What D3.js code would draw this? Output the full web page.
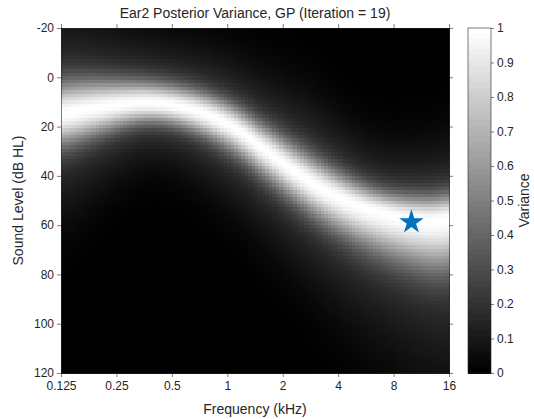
<!DOCTYPE html>
<html>
<head>
<meta charset="utf-8">
<script src="https://cdn.jsdelivr.net/npm/d3@7"></script>
<style>
    body { margin: 0; background: #fff; }
    text { font-family: "Liberation Sans", Arial, sans-serif; fill: #262626; }
</style>
</head>
<body>
<div id="heatmap"></div>
<script>
// Chart size, matches the 534x419 window
const WIDTH = 534, HEIGHT = 419;
const plot = {left: 61, top: 28, right: 449, bottom: 373};
const cbar = {left: 468, right: 491};

// Tick labels
const freqTicks = [0.125, 0.25, 0.5, 1, 2, 4, 8, 16];
const levelTicks = [-20, 0, 20, 40, 60, 80, 100, 120];
const varTicks = [0, 0.1, 0.2, 0.3, 0.4, 0.5, 0.6, 0.7, 0.8, 0.9, 1];

// Ridge of maximum variance (kHz -> dB HL)
const ridgeFreq  = [0.125, 0.218, 0.379, 0.628, 1.035, 1.57, 2.40, 3.63, 5.47, 8.34, 12.6, 16];
const ridgeLevel = [15, 12, 10.5, 13, 19.5, 29, 39, 47, 52.7, 56.5, 58.2, 57.5];

// Half-width (dB, value = 0.5) of the bright band, above and below the ridge
const widthFreq  = [0.125, 0.139, 0.38, 1.04, 2.75, 6.6, 14.3, 16];
const widthAbove = [10, 10, 6.8, 7, 8.5, 7, 8, 8];
const widthBelow = [10, 10, 6.2, 8, 10, 13, 16, 16];

// Next sample location (star)
const starFreq = 10.0, starLevel = 58.8;

// Grid resolution of the posterior (1/16 octave by 1.4 dB)
const NX = 112, NY = 100;

let svg = d3.select("#heatmap")
    .append("svg")
    .attr("width", WIDTH)
    .attr("height", HEIGHT);

let x = d3.scaleLog().base(2)
    .domain([0.125, 16])
    .range([plot.left, plot.right]);
let y = d3.scaleLinear()
    .domain([-20, 120])
    .range([plot.top, plot.bottom]);
let yc = d3.scaleLinear()
    .domain([0, 1])
    .range([plot.bottom, plot.top]);

/**
 * Cubic Hermite interpolation over log2 frequency
 */
function hermite(xs, ys, f) {
    let lx = xs.map(v => Math.log2(v));
    let t = Math.log2(f);
    let n = lx.length;
    let i = 0;
    while (i < n - 2 && t > lx[i + 1]) i++;
    let slope = function(k) {
        let a = Math.max(0, k - 1), b = Math.min(n - 1, k + 1);
        return (ys[b] - ys[a]) / (lx[b] - lx[a]);
    };
    let h = lx[i + 1] - lx[i];
    let s = (t - lx[i]) / h;
    let h00 = 2 * s * s * s - 3 * s * s + 1, h10 = s * s * s - 2 * s * s + s;
    let h01 = -2 * s * s * s + 3 * s * s, h11 = s * s * s - s * s;
    return h00 * ys[i] + h10 * h * slope(i) + h01 * ys[i + 1] + h11 * h * slope(i + 1);
}

/**
 * Variance at a frequency / level pair from the read-off band shape
 */
function variance(f, level) {
    let d = level - hermite(ridgeFreq, ridgeLevel, f);
    let hw = d < 0 ? hermite(widthFreq, widthAbove, f) : hermite(widthFreq, widthBelow, f);
    let s = hw / 1.1774;
    let v = 0.75 * Math.exp(-d * d / (2 * s * s)) + 0.25 * Math.exp(-d * d / (2 * 7.8 * s * s));
    return Math.max(0, Math.min(1, v));
}

// Build cells
let cells = [];
let lo = Math.log2(0.125), hi = Math.log2(16);
for (let i = 0; i < NX; i++) {
    let f0 = Math.pow(2, lo + (hi - lo) * i / NX);
    let f1 = Math.pow(2, lo + (hi - lo) * (i + 1) / NX);
    let fc = Math.sqrt(f0 * f1);
    for (let j = 0; j < NY; j++) {
        let l0 = -20 + 140 * j / NY, l1 = -20 + 140 * (j + 1) / NY;
        cells.push({f0: f0, f1: f1, l0: l0, l1: l1, v: variance(fc, (l0 + l1) / 2)});
    }
}

let gray = v => d3.rgb(v * 255, v * 255, v * 255);

svg.append("g")
    .selectAll("rect")
    .data(cells)
    .enter()
    .append("rect")
    .attr("x", d => x(d.f0))
    .attr("y", d => y(d.l0))
    .attr("width", d => x(d.f1) - x(d.f0) + 0.5)
    .attr("height", d => y(d.l1) - y(d.l0) + 0.5)
    .attr("fill", d => gray(d.v))
    .attr("shape-rendering", "crispEdges");

// Axes with outward ticks on all four sides
let tickFmt = d => String(d);
svg.append("g")
    .attr("transform", `translate(0, ${plot.bottom})`)
    .call(d3.axisBottom(x).tickValues(freqTicks).tickFormat(tickFmt).tickSize(4).tickPadding(4).tickSizeOuter(0));
svg.append("g")
    .attr("transform", `translate(0, ${plot.top})`)
    .call(d3.axisTop(x).tickValues(freqTicks).tickFormat("").tickSize(4).tickSizeOuter(0));
svg.append("g")
    .attr("transform", `translate(${plot.left}, 0)`)
    .call(d3.axisLeft(y).tickValues(levelTicks).tickFormat(tickFmt).tickSize(4).tickPadding(3).tickSizeOuter(0));
svg.append("g")
    .attr("transform", `translate(${plot.right}, 0)`)
    .call(d3.axisRight(y).tickValues(levelTicks).tickFormat("").tickSize(4).tickSizeOuter(0));
svg.selectAll(".domain, .tick line").attr("stroke", "#262626").attr("stroke-width", 0.6);
svg.selectAll(".tick text").style("font-size", "12px").attr("fill", "#262626");

// Star marker
svg.append("path")
    .attr("d", d3.symbol().type(d3.symbolStar).size(185)())
    .attr("transform", `translate(${x(starFreq)}, ${y(starLevel)})`)
    .attr("fill", "#0072BD");

// Title and axis labels
svg.append("text")
    .attr("x", (plot.left + plot.right) / 2)
    .attr("y", 18)
    .style("text-anchor", "middle")
    .style("font-size", "14px")
    .text("Ear2 Posterior Variance, GP (Iteration = 19)");
svg.append("text")
    .attr("x", (plot.left + plot.right) / 2)
    .attr("y", 414)
    .style("text-anchor", "middle")
    .style("font-size", "14px")
    .text("Frequency (kHz)");
svg.append("text")
    .attr("transform", `translate(23, ${(plot.top + plot.bottom) / 2}) rotate(-90)`)
    .style("text-anchor", "middle")
    .style("font-size", "14px")
    .text("Sound Level (dB HL)");

// Colorbar: 64 gray steps
let steps = d3.range(64);
svg.append("g")
    .selectAll("rect")
    .data(steps)
    .enter()
    .append("rect")
    .attr("x", cbar.left)
    .attr("y", d => yc((d + 1) / 64))
    .attr("width", cbar.right - cbar.left)
    .attr("height", d => yc(d / 64) - yc((d + 1) / 64) + 0.5)
    .attr("fill", d => gray(d / 63))
    .attr("shape-rendering", "crispEdges");
svg.append("rect")
    .attr("x", cbar.left)
    .attr("y", plot.top)
    .attr("width", cbar.right - cbar.left)
    .attr("height", plot.bottom - plot.top)
    .attr("fill", "none")
    .attr("stroke", "#262626")
    .attr("stroke-width", 0.6);
let cAxis = svg.append("g")
    .attr("transform", `translate(${cbar.right}, 0)`)
    .call(d3.axisRight(yc).tickValues(varTicks).tickFormat(tickFmt).tickSize(3).tickPadding(3).tickSizeOuter(0));
cAxis.select(".domain").remove();
cAxis.selectAll(".tick line").attr("stroke", "#262626").attr("stroke-width", 0.6);
cAxis.selectAll(".tick text").style("font-size", "12px").attr("fill", "#262626");
svg.append("text")
    .attr("transform", `translate(529, ${(plot.top + plot.bottom) / 2}) rotate(-90)`)
    .style("text-anchor", "middle")
    .style("font-size", "14px")
    .text("Variance");
</script>
</body>
</html>
